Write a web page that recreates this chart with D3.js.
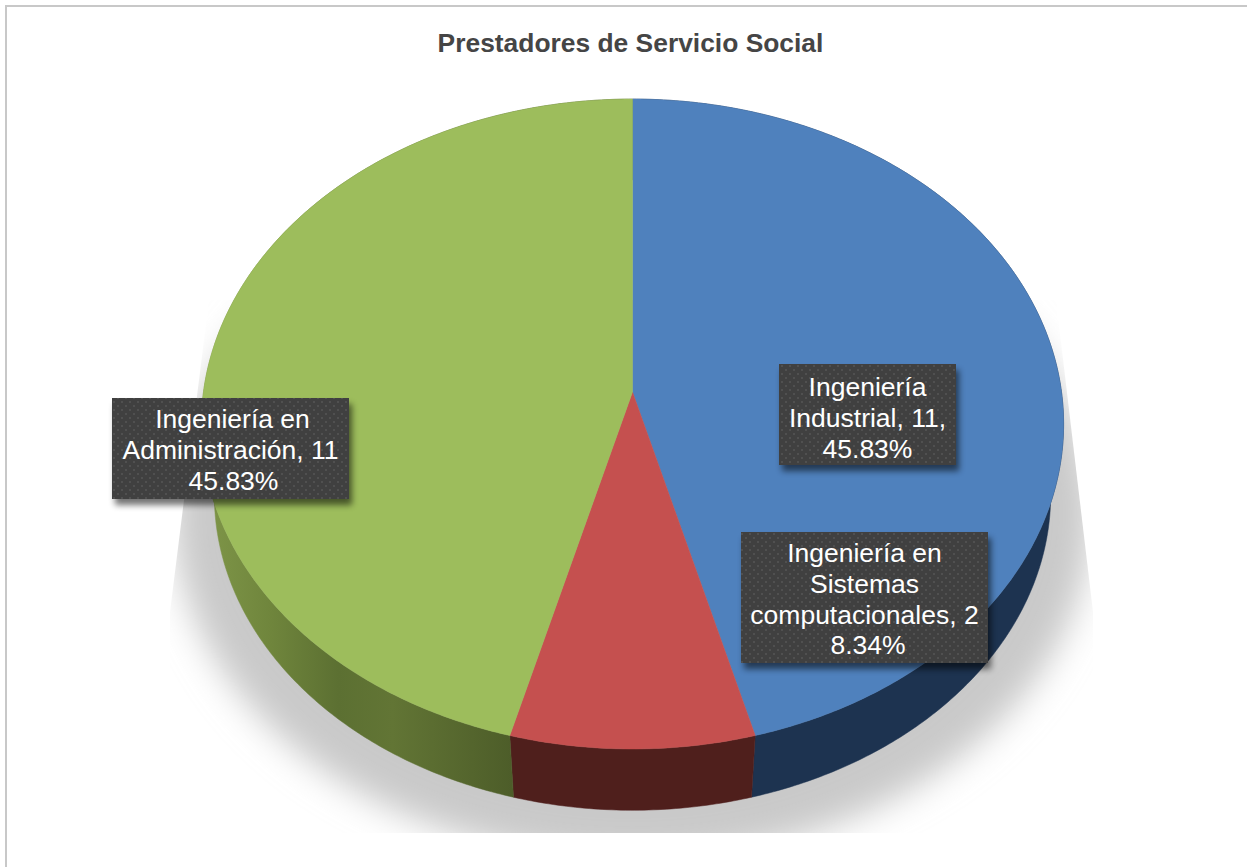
<!DOCTYPE html>
<html><head><meta charset="utf-8">
<script src="https://cdn.jsdelivr.net/npm/d3@7"></script>
<style>html,body{margin:0;padding:0;background:#fff;overflow:hidden}svg{display:block}text{font-family:"Liberation Sans",Arial,sans-serif}</style>
</head><body><svg id="c" width="1247" height="867"></svg>
<script>
const chartTitle = "Prestadores de Servicio Social";
const categories = ["Ingeniería Industrial", "Ingeniería en Sistemas computacionales", "Ingeniería en Administración"];
const values = [11, 2, 11];
const percentLabels = ["45.83%", "8.34%", "45.83%"];
const labelLines = [
  ["Ingeniería", "Industrial, 11,", "45.83%"],
  ["Ingeniería en", "Sistemas", "computacionales, 2", "8.34%"],
  ["Ingeniería en", "Administración, 11", "45.83%"]
];
const topColors = ["#4f81bd", "#c5504f", "#9dbd5c"];
const sideColors = ["#1d3350", "#4f1f1c", "url(#greenSide)"];

// layout
const labelBoxes = [
  {x:779, y:364, w:177, h:101, base:396, dx:[0,0,0]},
  {x:741, y:532, w:247, h:131, base:562, dx:[0,0,0,3.5]},
  {x:112, y:398, w:237, h:101, base:428, dx:[2,0,3]}
];
const CX = 632.5, K = -0.0985, A = 321.8, B = 429;
const svg = d3.select("#c");
const defs = svg.append("defs");

// perspective projection of a unit disc point (angle clockwise from 12 o'clock)
const project = (angle, r, cy, s) => {
  const u = Math.sin(angle) * r, v = -Math.cos(angle) * r, d = 1 + K * v;
  return [CX + s * B * u / d, cy + s * A * v / d];
};
const TOP = {cy:392, s:1}, LOW = {cy:464, s:0.97};
const line = d3.line();
const rim = (a0, a1, p) => {
  const n = Math.max(2, Math.ceil((a1 - a0) / 0.01));
  return d3.range(n + 1).map(i => project(a0 + (a1 - a0) * i / n, 1, p.cy, p.s));
};
const arcs = d3.pie().sort(null).value(d => d)(values);

// gradients, filters, pattern
const g = defs.append("linearGradient").attr("id","greenSide").attr("gradientUnits","userSpaceOnUse")
  .attr("x1",212).attr("x2",512).attr("y1",0).attr("y2",0);
[[0,"#7d9447"],[0.2,"#6f853c"],[0.42,"#5c7032"],[0.6,"#627535"],[1,"#4d5d29"]]
  .forEach(([o,c]) => g.append("stop").attr("offset",o).attr("stop-color",c));
defs.append("filter").attr("id","blur").attr("x","-20%").attr("y","-20%").attr("width","140%").attr("height","140%")
  .append("feGaussianBlur").attr("stdDeviation",17);
const ds = defs.append("filter").attr("id","boxShadow").attr("x","-10%").attr("y","-10%").attr("width","125%").attr("height","130%");
ds.append("feGaussianBlur").attr("stdDeviation",3);
const pat = defs.append("pattern").attr("id","dots").attr("patternUnits","userSpaceOnUse").attr("width",8).attr("height",8);
pat.append("rect").attr("width",8).attr("height",8).attr("fill","#404040");
[[1,1],[5,5]].forEach(([x,y]) => pat.append("rect").attr("x",x).attr("y",y).attr("width",2).attr("height",2).attr("fill","#505050"));
defs.append("clipPath").attr("id","shadowClip").append("polygon")
  .attr("points","209,300 1056,300 1093,612 1093,833 170,833 170,612");

// chart frame: only the top and left edges fall inside the picture
svg.append("path").attr("d","M6,867V6H1247").attr("fill","none")
  .attr("stroke","#c8c8c8").attr("stroke-width",2);

// title
svg.append("text").attr("x",630.5).attr("y",52).attr("text-anchor","middle")
  .attr("font-size",26.4).attr("font-weight","bold").attr("fill","#454545").text(chartTitle);

// floor shadow
svg.append("g").attr("clip-path","url(#shadowClip)").append("path")
  .attr("d", line(rim(0, 2*Math.PI, {cy:480, s:1.065})) + "Z")
  .attr("fill","#c9c9c9").attr("filter","url(#blur)");

// side wall
svg.append("g").selectAll("path").data(arcs).join("path")
  .attr("d", d => line([...rim(d.startAngle, d.endAngle, TOP), ...rim(d.startAngle, d.endAngle, LOW).reverse()]) + "Z")
  .attr("fill", d => sideColors[d.index]).attr("stroke", d => sideColors[d.index]).attr("stroke-width",0.5);

// top surface
svg.append("g").selectAll("path").data(arcs).join("path")
  .attr("d", d => line([[CX, TOP.cy], ...rim(d.startAngle, d.endAngle, TOP)]) + "Z")
  .attr("fill", d => topColors[d.index]).attr("stroke", d => topColors[d.index]).attr("stroke-width",0.5);

// data labels
const lab = svg.append("g").selectAll("g").data(labelLines).join("g");
lab.append("rect").attr("x",(d,i)=>labelBoxes[i].x+3).attr("y",(d,i)=>labelBoxes[i].y+6)
  .attr("width",(d,i)=>labelBoxes[i].w).attr("height",(d,i)=>labelBoxes[i].h)
  .attr("fill","#000").attr("opacity",0.55).attr("filter","url(#boxShadow)");
lab.append("rect").attr("x",(d,i)=>labelBoxes[i].x).attr("y",(d,i)=>labelBoxes[i].y)
  .attr("width",(d,i)=>labelBoxes[i].w).attr("height",(d,i)=>labelBoxes[i].h).attr("fill","url(#dots)");
lab.each(function(lines,i){
  const b = labelBoxes[i];
  d3.select(this).selectAll("text").data(lines).join("text")
    .attr("x",(t,j)=> b.x + b.w/2 + b.dx[j]).attr("y",(t,j)=>b.base + j*30.8)
    .attr("text-anchor","middle").attr("font-size",26.5).attr("fill","#fff").text(t=>t);
});
</script></body></html>
